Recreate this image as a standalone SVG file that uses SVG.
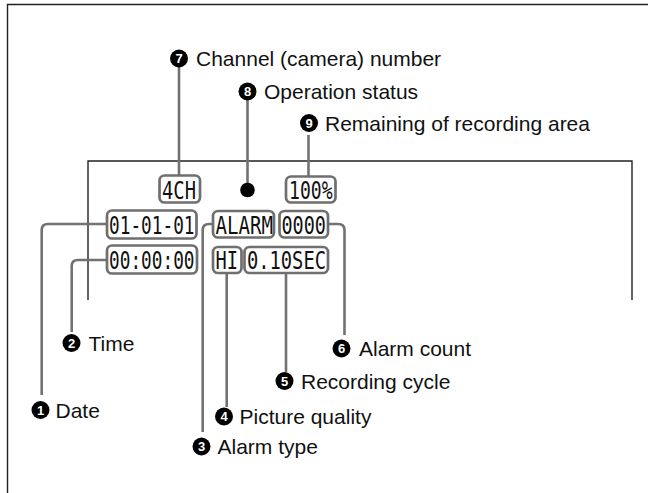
<svg xmlns="http://www.w3.org/2000/svg" width="648" height="493" viewBox="0 0 648 493">
<style>
.frame{fill:none;stroke:#222;stroke-width:1.4}
.box{fill:#fff;stroke:#6f6f6f;stroke-width:2.7}
.lcd{font-family:"DejaVu Sans Mono","Liberation Mono",monospace;font-size:24px;fill:#111}
.conn{fill:none;stroke:#727272;stroke-width:2.6}
.badge{fill:#000}
.num{font-family:"Liberation Sans",Arial,sans-serif;font-weight:bold;font-size:13px;fill:#fff;text-anchor:middle}
.lbl{font-family:"Liberation Sans",Arial,sans-serif;font-size:21px;fill:#111}
</style>
<rect width="648" height="493" fill="#fff"/>
<path class="frame" d="M7.5,493 V4.5 H648"/>
<path class="frame" d="M88,300 V161 H632 V300"/>

<g id="connectors">
<path class="conn" d="M179,67 V175"/>
<path class="conn" d="M247.5,100 V190"/>
<path class="conn" d="M308.5,135 V177"/>
<path class="conn" d="M107,224 H48 Q41.7,224 41.7,230 V395"/>
<path class="conn" d="M107,260 H78 Q71.7,260 71.7,266 V332"/>
<path class="conn" d="M213,224 H209 Q202.7,224 202.7,230 V432"/>
<path class="conn" d="M226.7,273 V407"/>
<path class="conn" d="M286,273 V372"/>
<path class="conn" d="M328,224 H338 Q344.5,224 344.5,230 V335"/>
</g>

<g id="ch"><rect class="box" x="159.5" y="175.5" width="40.5" height="27" rx="5"/><text class="lcd" transform="matrix(0.784,0,0,1,162,198.5)">4CH</text></g>
<g id="status"><circle cx="247.5" cy="190" r="7.3" fill="#000"/></g>
<g id="remain"><rect class="box" x="286" y="176.5" width="49.5" height="26" rx="5"/><text class="lcd" transform="matrix(0.753,0,0,1,289,198.5)">100%</text></g>
<g id="date"><rect class="box" x="107" y="210.5" width="89.5" height="28" rx="5"/><text class="lcd" transform="matrix(0.74,0,0,1,109,233.5)">01-01-01</text></g>
<g id="alarmtype"><rect class="box" x="213" y="211" width="61" height="26.5" rx="5"/><text class="lcd" transform="matrix(0.796,0,0,1,215.5,233.5)">ALARM</text></g>
<g id="alarmcount"><rect class="box" x="279.5" y="211" width="48.5" height="26.5" rx="5"/><text class="lcd" transform="matrix(0.77,0,0,1,281.5,233.5)">0000</text></g>
<g id="time"><rect class="box" x="107" y="245.5" width="90" height="28" rx="5"/><text class="lcd" transform="matrix(0.74,0,0,1,109,268.5)">00:00:00</text></g>
<g id="quality"><rect class="box" x="213" y="247" width="28.5" height="26" rx="5"/><text class="lcd" transform="matrix(0.779,0,0,1,215.5,268.5)">HI</text></g>
<g id="cycle"><rect class="box" x="244.5" y="247" width="83.5" height="26" rx="5"/><text class="lcd" transform="matrix(0.781,0,0,1,247,268.5)">0.10SEC</text></g>

<g id="label7"><circle class="badge" cx="179" cy="58.5" r="9"/><text class="num" x="179" y="63">7</text><text class="lbl" x="196" y="66">Channel (camera) number</text></g>
<g id="label8"><circle class="badge" cx="247.5" cy="91.5" r="9"/><text class="num" x="247.5" y="96">8</text><text class="lbl" x="264" y="99">Operation status</text></g>
<g id="label9"><circle class="badge" cx="309" cy="123" r="9"/><text class="num" x="309" y="127.5">9</text><text class="lbl" x="325" y="130.5">Remaining of recording area</text></g>
<g id="label2"><circle class="badge" cx="71.5" cy="343" r="9"/><text class="num" x="71.5" y="347.5">2</text><text class="lbl" x="88.5" y="350.5">Time</text></g>
<g id="label1"><circle class="badge" cx="40.5" cy="410" r="9"/><text class="num" x="40.5" y="414.5">1</text><text class="lbl" x="55.5" y="417.5">Date</text></g>
<g id="label3"><circle class="badge" cx="201.5" cy="446.5" r="9"/><text class="num" x="201.5" y="451">3</text><text class="lbl" x="217.5" y="454">Alarm type</text></g>
<g id="label4"><circle class="badge" cx="224" cy="416.5" r="9"/><text class="num" x="224" y="421">4</text><text class="lbl" x="239.5" y="424">Picture quality</text></g>
<g id="label5"><circle class="badge" cx="284.5" cy="381" r="9"/><text class="num" x="284.5" y="385.5">5</text><text class="lbl" x="301" y="388.5">Recording cycle</text></g>
<g id="label6"><circle class="badge" cx="341.5" cy="348.5" r="9"/><text class="num" x="341.5" y="353">6</text><text class="lbl" x="359" y="356">Alarm count</text></g>
</svg>
